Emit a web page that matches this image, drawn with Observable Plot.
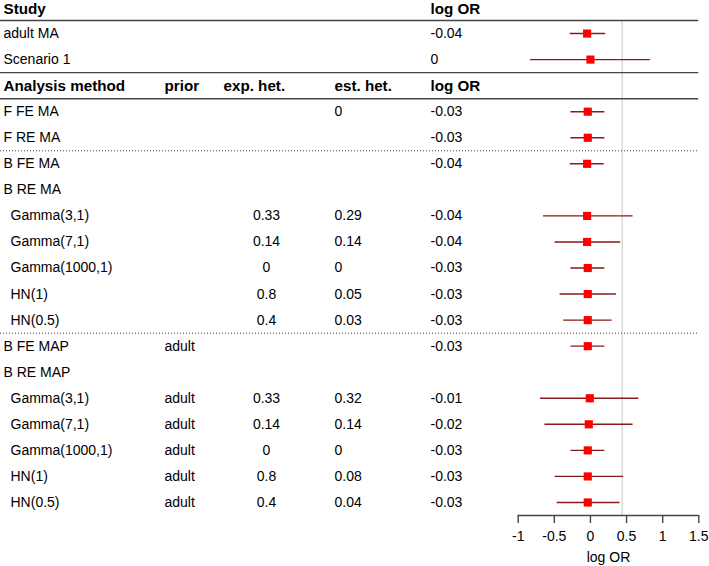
<!DOCTYPE html>
<html>
<head>
<meta charset="utf-8">
<script src="https://cdn.jsdelivr.net/npm/d3@7"></script>
<script src="https://cdn.jsdelivr.net/npm/@observablehq/plot@0.6"></script>
<style>
  html, body { margin: 0; padding: 0; background: #fff; }
  #chart svg { display: block; }
</style>
</head>
<body>
<div id="chart"></div>
<script>
// ---- data ----
const labels = [
  "Study", "adult MA", "Scenario 1",
  "Analysis method", "F FE MA", "F RE MA",
  "B FE MA", "B RE MA",
  "Gamma(3,1)", "Gamma(7,1)", "Gamma(1000,1)", "HN(1)", "HN(0.5)",
  "B FE MAP", "B RE MAP",
  "Gamma(3,1)", "Gamma(7,1)", "Gamma(1000,1)", "HN(1)", "HN(0.5)"
];
const indented = [false,false,false,false,false,false,false,false,
  true,true,true,true,true,false,false,true,true,true,true,true];
const headerRows = [0, 3];
const priorCol = ["","","","prior","","","","","","","","","","adult","","adult","adult","adult","adult","adult"];
const expHet = ["","","","exp. het.","","","","","0.33","0.14","0","0.8","0.4","","","0.33","0.14","0","0.8","0.4"];
const estHet = ["","","","est. het.","0","","","","0.29","0.14","0","0.05","0.03","","","0.32","0.14","0","0.08","0.04"];
const logORText = ["log OR","-0.04","0","log OR","-0.03","-0.03","-0.04","","-0.04","-0.04","-0.03","-0.03","-0.03","-0.03","","-0.01","-0.02","-0.03","-0.03","-0.03"];

// estimates and intervals (null = no interval drawn)
const est   = [null,-0.046,0.0,null,-0.037,-0.037,-0.046,null,-0.046,-0.046,-0.037,-0.037,-0.037,-0.037,null,-0.009,-0.023,-0.037,-0.037,-0.037];
const lower = [null,-0.28,-0.83,null,-0.27,-0.27,-0.28,null,-0.65,-0.49,-0.27,-0.42,-0.37,-0.27,null,-0.69,-0.63,-0.27,-0.49,-0.46];
const upper = [null,0.21,0.83,null,0.20,0.20,0.19,null,0.59,0.42,0.20,0.36,0.30,0.20,null,0.67,0.59,0.20,0.46,0.41];

const solidSeps = [0.5, 2.5, 3.5];
const dottedSeps = [5.5, 12.5];
const refLine = 0.44;
const tickValues = [-1, -0.5, 0, 0.5, 1, 1.5];
const tickLabels = ["-1", "-0.5", "0", "0.5", "1", "1.5"];
const axisTitle = "log OR";

// ---- table built from arrays ----
const rows = labels.map((l, i) => ({
  row: i, label: l, indent: indented[i], bold: headerRows.includes(i),
  prior: priorCol[i], exp: expHet[i], estH: estHet[i], lor: logORText[i],
  est: est[i], lo: lower[i], hi: upper[i]
}));
const ci = rows.filter(d => d.est !== null);
const nRows = labels.length;
const bottomRow = nRows - 0.5;

const font = "Liberation Sans, Arial, Helvetica, sans-serif";
const lineColor = "#444";
const FS = 14;
const FSB = 15.2;

// bold header text; the very top header is nudged down so it is not clipped
function headerText(data, field, dx) {
  return [
    Plot.text(data.filter(d => d.row === 0), { y: "row", text: field, frameAnchor: "left", dx, dy: 2, textAnchor: "start", fontSize: FSB, fontWeight: "bold", fill: "#000" }),
    Plot.text(data.filter(d => d.row !== 0), { y: "row", text: field, frameAnchor: "left", dx, dy: 0, textAnchor: "start", fontSize: FSB, fontWeight: "bold", fill: "#000" })
  ];
}

// helper: a text column, split into bold header rows and normal body rows
function column(field, dx, anchor, headerDx) {
  const body = rows.filter(d => !d.bold && d[field]);
  const head = rows.filter(d => d.bold && d[field]);
  return [
    Plot.text(body, { y: "row", text: field, frameAnchor: "left", dx, textAnchor: anchor, fontSize: FS, fill: "#000" }),
    ...headerText(head, field, headerDx ?? dx)
  ];
}

const plot = Plot.plot({
  width: 709,
  height: 566,
  marginLeft: 0,
  marginRight: 10.7,
  marginTop: 7,
  marginBottom: 51,
  style: { fontFamily: font, fontSize: "14px", background: "#fff", color: "#000" },
  x: { domain: [-1, 1.5], range: [517.7, 698.3] },
  y: { domain: [0, bottomRow], reverse: true, axis: null },
  marks: [
    // reference line
    Plot.ruleX([refLine], { y1: 0.5, y2: bottomRow, stroke: "#d9d9d9", strokeWidth: 1.5 }),
    // separators
    Plot.ruleY(solidSeps, { stroke: lineColor, strokeWidth: 1.4 }),
    Plot.ruleY(dottedSeps, { stroke: lineColor, strokeWidth: 1, strokeDasharray: "1,2" }),
    // label column
    Plot.text(rows.filter(d => !d.indent && !d.bold), {
      y: "row", text: "label", frameAnchor: "left", dx: 3, textAnchor: "start", fontSize: FS, fill: "#000"
    }),
    ...headerText(rows.filter(d => d.bold), "label", 3),
    Plot.text(rows.filter(d => d.indent), {
      y: "row", text: "label", frameAnchor: "left", dx: 10, textAnchor: "start", fontSize: FS, fill: "#000"
    }),
    ...column("prior", 164, "start"),
    ...column("exp", 266, "middle", 223),
    ...column("estH", 334, "start"),
    ...column("lor", 430, "start"),
    // confidence intervals and estimates
    Plot.ruleY(ci, { y: "row", x1: "lo", x2: "hi", stroke: "#8b1a1a", strokeWidth: 1.4 }),
    Plot.dot(ci, { x: "est", y: "row", symbol: "square", r: 4.6, fill: "#ff0000", stroke: "none" }),
    // x axis
    Plot.ruleY([bottomRow], { x1: tickValues[0], x2: tickValues[tickValues.length - 1], stroke: lineColor, strokeWidth: 1.4 }),
    Plot.axisX({
      ticks: tickValues, tickSize: 8, tickPadding: 8,
      tickFormat: d => tickLabels[tickValues.indexOf(d)],
      label: null, fontSize: FS, stroke: lineColor, strokeWidth: 1.4, fill: "#000"
    }),
    Plot.text([axisTitle], {
      x: 0.25, frameAnchor: "bottom", dy: 46, text: d => d, fontSize: FS, fill: "#000", textAnchor: "middle"
    })
  ]
});
document.getElementById("chart").appendChild(plot);
</script>
</body>
</html>
